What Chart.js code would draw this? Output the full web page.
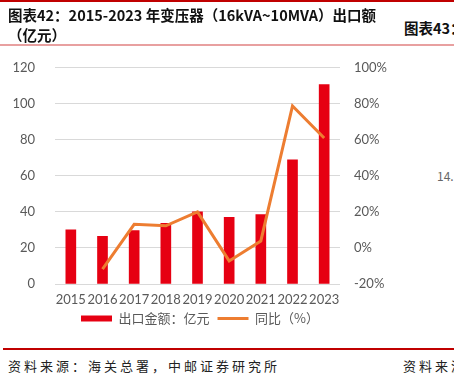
<!DOCTYPE html>
<html>
<head>
<meta charset="utf-8">
<script src="https://cdn.jsdelivr.net/npm/chart.js@4"></script>
<style>
  html, body { margin:0; padding:0; background:#fff; }
  body { width:454px; height:378px; position:relative; overflow:hidden; font-family:"Noto Sans CJK SC", sans-serif; }
  .abs { position:absolute; white-space:nowrap; }
  #topline { left:0; top:0; width:454px; height:2px; background:#c00000; }
  #hdrline { left:0; top:44px; width:454px; height:2px; background:#e8a0a0; }
  #title { left:8px; top:5px; font-size:14.5px; font-weight:bold; line-height:20px; color:#111; }
  #title2 { left:404px; top:17px; font-size:14.5px; font-weight:bold; color:#111; }
  #stray { left:437px; top:167px; font-size:12px; color:#666; }
  #botline { left:3px; top:348px; width:451px; height:2px; background:#c00000; }
  #src { left:8px; top:356px; font-size:13px; letter-spacing:3px; color:#222; }
  #src2 { left:403px; top:356px; font-size:13px; letter-spacing:3px; color:#222; }
  #wrap { left:0; top:40px; width:400px; height:295px; }
</style>
</head>
<body>
<div class="abs" id="topline"></div>
<div class="abs" id="hdrline"></div>
<div class="abs" id="wrap"><canvas id="c"></canvas></div>
<div class="abs" id="title">图表42：2015-2023 年变压器（16kVA~10MVA）出口额<br>（亿元）</div>
<div class="abs" id="title2">图表43：</div>
<div class="abs" id="stray">14.</div>
<div class="abs" id="botline"></div>
<div class="abs" id="src">资料来源：海关总署，中邮证券研究所</div>
<div class="abs" id="src2">资料来源：</div>
<script>
const categories = ["2015","2016","2017","2018","2019","2020","2021","2022","2023"];
const exportValue = [30, 26.4, 29.6, 33.7, 40, 37, 38.5, 68.9, 110.7];
const yoyPct = [null, -11.8, 13.1, 12.3, 20, -7.2, 3.9, 78.8, 61];
const leftTicks = [0, 20, 40, 60, 80, 100, 120];
const rightTicks = [-20, 0, 20, 40, 60, 80, 100];

const tickFont = { family: "Lato, 'Open Sans', sans-serif", size: 13 };
new Chart(document.getElementById('c'), {
  data: {
    labels: categories,
    datasets: [
      { type:'line', label:'同比（%）', data: yoyPct, yAxisID:'y1',
        borderColor:'#ed7d31', backgroundColor:'#ed7d31', borderWidth:3,
        pointRadius:0, tension:0, order:0 },
      { type:'bar', label:'出口金额：亿元', data: exportValue, yAxisID:'y',
        backgroundColor:'#e60012', barThickness:10, order:1 }
    ]
  },
  options: {
    responsive:true, maintainAspectRatio:false, animation:false,
    layout:{ padding:{ top:6, left:0, right:0, bottom:0 } },
    plugins:{
      tooltip:{ enabled:false },
      legend:{
        position:'bottom',
        reverse:true,
        labels:{ boxWidth:31, boxHeight:6, padding:8, color:'#595959',
          usePointStyle:true, pointStyleWidth:31,
          font:{ family:"'Noto Sans CJK SC', sans-serif", size:13 },
          generateLabels(chart){
            const items = Chart.defaults.plugins.legend.labels.generateLabels(chart);
            items.forEach(it => {
              const ds = chart.data.datasets[it.datasetIndex];
              if (ds.type === 'line') { it.pointStyle = 'line'; it.lineWidth = 3; it.strokeStyle = ds.borderColor; }
              else { it.pointStyle = 'rect'; it.lineWidth = 0; }
            });
            return items;
          }
        }
      }
    },
    scales:{
      x:{
        grid:{ display:false, drawTicks:false },
        border:{ display:false },
        ticks:{ color:'#595959', font:tickFont, padding:8, maxRotation:0, autoSkip:false },
        afterFit(s){ s.height = 20; }
      },
      y:{
        position:'left', min:0, max:120,
        afterBuildTicks(s){ s.ticks = leftTicks.map(v=>({value:v})); },
        grid:{ color:'#d9d9d9', drawTicks:false, lineWidth:1 },
        border:{ display:false },
        ticks:{ color:'#595959', font:tickFont, padding:20 },
        afterFit(s){ s.width = 55; }
      },
      y1:{
        position:'right', min:-20, max:100,
        afterBuildTicks(s){ s.ticks = rightTicks.map(v=>({value:v})); },
        grid:{ display:false, drawTicks:false },
        border:{ display:false },
        ticks:{ color:'#595959', font:tickFont, padding:14, callback:v=>v+'%' },
        afterFit(s){ s.width = 60; }
      }
    }
  }
});
</script>
</body>
</html>
